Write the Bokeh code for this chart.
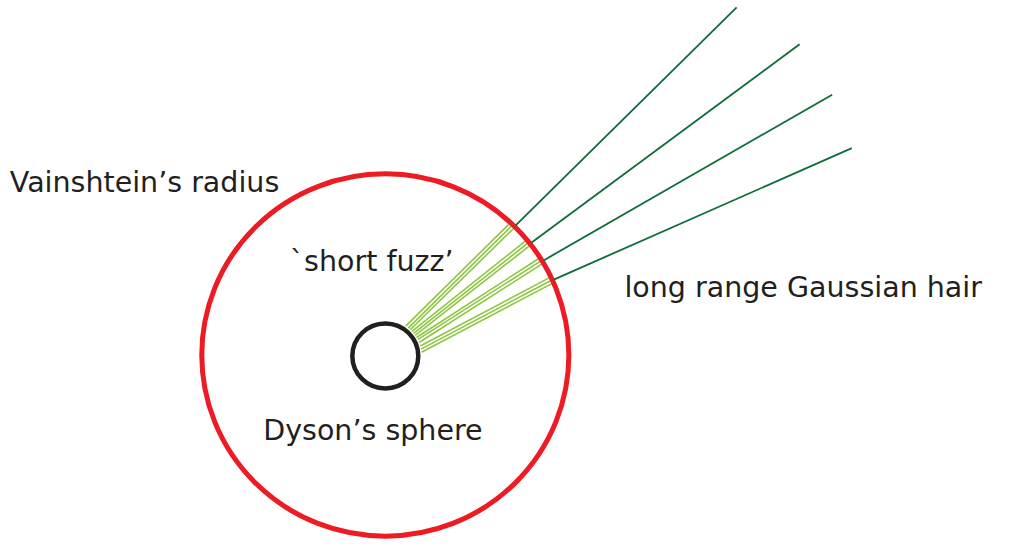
import numpy as np
from bokeh.plotting import figure
from bokeh.models import Range1d
from bokeh.core.properties import value
from bokeh.embed import file_html
from bokeh.resources import INLINE

# ---- diagram data (reference pixel units, y grows downward) ----
vain_center = (391, 365)
vain_radius = 186.5
dyson_center = (391, 366)
dyson_radius = 33.5

# short fuzz: start angle on Dyson sphere, end angle on Vainshtein circle (deg, CCW from +x)
fuzz_start_deg = [56, 51, 47, 43, 39, 35, 31, 27, 22, 16, 11, 6]
fuzz_end_deg = [47.0, 46.0, 45.0, 39.5, 38.5, 37.5, 32.5, 31.5, 30.5, 25.5, 24.5, 23.5]
fuzz_start_r = 37
fuzz_end_r = 185

# long range hair: start angle on Vainshtein circle, end points
hair_start_deg = [45.2, 37.9, 31.2, 24.4]
hair_start_r = 188
hair_end_x = [748, 812, 845, 865]
hair_end_y = [7, 45, 97, 152]

labels = ["Vainshtein\u2019s radius", "`short fuzz\u2019", "Dyson\u2019s sphere", "long range Gaussian hair"]
label_x = [9.5, 294, 267, 634]
label_y = [187, 269, 443, 295]

RED = "#ed1c24"
BLACK = "#231f20"
LIGHT_GREEN = "#8dc63f"
DARK_GREEN = "#0f6b3a"


def polar(center, r, deg):
    a = np.radians(np.asarray(deg, dtype=float))
    return center[0] + r * np.cos(a), center[1] - r * np.sin(a)


p = figure(width=994, height=541, x_range=Range1d(0, 1010), y_range=Range1d(557, 0),
           output_backend="svg", toolbar_location=None, min_border=0,
           x_axis_location=None, y_axis_location=None)
p.grid.visible = False
p.outline_line_color = None
p.background_fill_color = "white"
p.border_fill_color = "white"

# short fuzz
fx0, fy0 = polar(dyson_center, fuzz_start_r, fuzz_start_deg)
fx1, fy1 = polar(vain_center, fuzz_end_r, fuzz_end_deg)
p.segment(x0=fx0, y0=fy0, x1=fx1, y1=fy1, line_color=LIGHT_GREEN, line_width=1.6)

# Vainshtein circle
p.ellipse(x=[vain_center[0]], y=[vain_center[1]], width=[2 * vain_radius], height=[2 * vain_radius],
          fill_color=None, line_color=RED, line_width=5)

# long range hair
hx0, hy0 = polar(vain_center, hair_start_r, hair_start_deg)
p.segment(x0=hx0, y0=hy0, x1=hair_end_x, y1=hair_end_y, line_color=DARK_GREEN, line_width=1.8)

# Dyson sphere
p.ellipse(x=[dyson_center[0]], y=[dyson_center[1]], width=[2 * dyson_radius], height=[2 * dyson_radius],
          fill_color=None, line_color=BLACK, line_width=4.5)

p.text(x=label_x, y=label_y, text=labels, text_font=value("DejaVu Sans"), text_font_size="28.5px",
       text_baseline="alphabetic", text_align="left", text_color=BLACK)

open("out.html", "w").write(file_html(p, INLINE))
